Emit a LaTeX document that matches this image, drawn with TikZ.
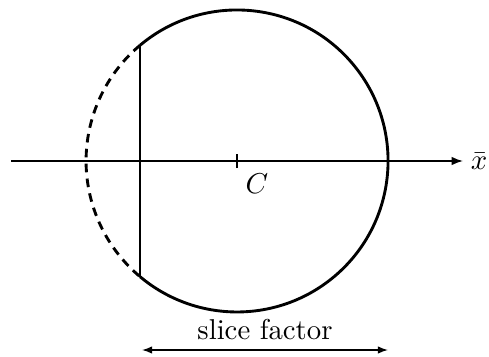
\documentclass[tikz,border=0pt]{standalone}
\usepackage{amsmath}
\usetikzlibrary{arrows.meta,positioning,calc}

\begin{document}
\begin{tikzpicture}[x=0.348pt,y=0.348pt,
  rim/.style={line width=1pt},
  cutrim/.style={line width=1pt,dash pattern=on 3pt off 2.2pt},
  axisline/.style={line width=0.5pt,-{Latex[length=4pt,width=3pt]}},
  span/.style={line width=0.5pt,{Latex[length=3.5pt,width=2.6pt]}-{Latex[length=3.5pt,width=2.6pt]}}]
\useasboundingbox (0,0) rectangle (489,356);

% centre and axis
\coordinate (C) at (237,195);
\coordinate (xs) at (11,195);
\coordinate (xe) at (463,195);
\draw[axisline] (xs) -- (xe);
\node (xbar) at (479,195) {$\bar{x}$};
\draw[line width=0.5pt] ($(C)+(0,-7)$) -- ($(C)+(0,7)$);
\node (clabel) at (257,172) {$C$};

% chord ends
\coordinate (ctop) at (140,310.7);
\coordinate (cbot) at (140,79.3);

% circle, cut at the chord
\draw[rim] (ctop) arc[start angle=130,end angle=-130,radius=151];
\draw[cutrim] (ctop) arc[start angle=130,end angle=230,radius=151];
\draw[rim] (ctop) -- (cbot);

% slice factor
\coordinate (sl) at (142,6);
\coordinate (sr) at (388,6);
\draw[span] (sl) -- (sr) node[midway,above] (slabel) {slice factor};

\end{tikzpicture}
\end{document}
